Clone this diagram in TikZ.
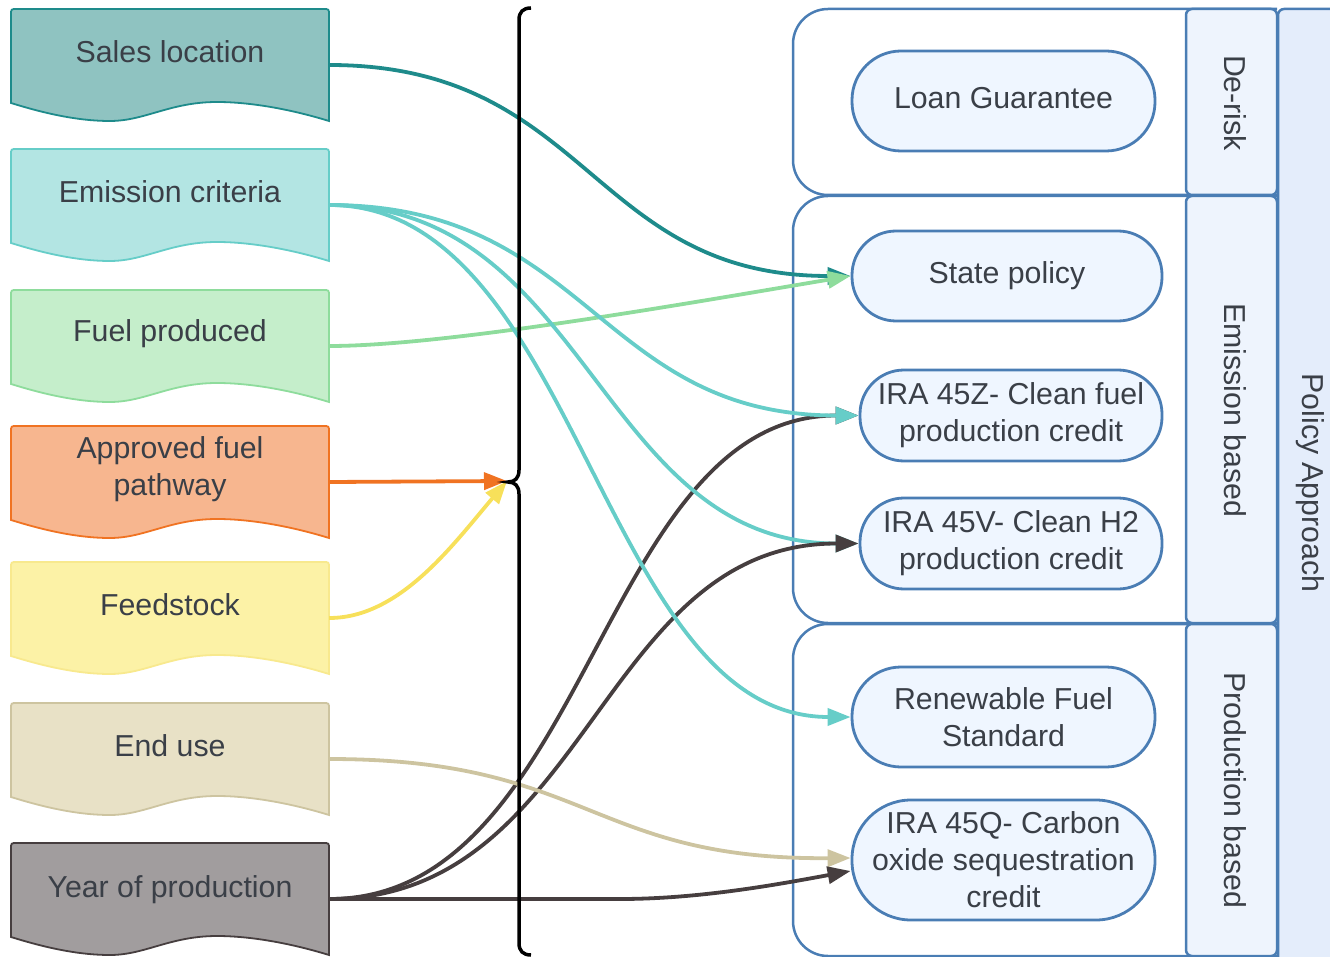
\documentclass[tikz,border=0pt]{standalone}
\usepackage{fontspec}
\setmainfont{Liberation Sans}
\usetikzlibrary{arrows.meta,calc}
\definecolor{txt}{HTML}{3A3F47}
\definecolor{laneblue}{HTML}{4A7DB4}
\definecolor{tabfill}{HTML}{EEF4FD}
\definecolor{colfill}{HTML}{E4EDFB}
\definecolor{pillfill}{HTML}{EFF6FF}
\definecolor{salesF}{HTML}{8FC3C1}\definecolor{salesD}{HTML}{1E8B8B}
\definecolor{emisF}{HTML}{B3E5E3}\definecolor{emisD}{HTML}{66CDC8}
\definecolor{fuelF}{HTML}{C5EECB}\definecolor{fuelD}{HTML}{8EDC9C}
\definecolor{apprF}{HTML}{F7B68F}\definecolor{apprD}{HTML}{F07322}
\definecolor{feedF}{HTML}{FCF2A6}\definecolor{feedD}{HTML}{F8E98E}\definecolor{feedL}{HTML}{F7E05A}
\definecolor{endF}{HTML}{E8E1C6}\definecolor{endD}{HTML}{CDC4A0}
\definecolor{yearF}{HTML}{A19D9E}\definecolor{yearD}{HTML}{463E3F}
\newcommand\docbox[7]{%
  \node[docanchor] (#1) at (170,#2+56) {};
  \draw[draw=#4, fill=#3, line width=1.8pt] (11,#2+94) -- (11,#2+6) .. controls (11,#2) .. (17,#2) -- (323,#2) .. controls (329,#2) .. (329,#2+6) -- (329,#2+112) .. controls (290,#2+100) and (250,#2+93) .. (217,#2+93) .. controls (170,#2+93) and (145,#2+112) .. (110,#2+112) .. controls (75,#2+112) and (40,#2+103) .. (11,#2+94) -- cycle;
  \node[doctext] (#6) at (170,#2+#7) {#5};
}
\begin{document}
\begin{tikzpicture}[x=1pt,y=-1pt,
  docanchor/.style={rectangle, minimum width=318pt, minimum height=112pt, inner sep=0pt},
  doctext/.style={text=txt, font=\fontsize{30.3}{37}\selectfont, align=center, inner sep=0pt},
  pill/.style={draw=laneblue, fill=pillfill, line width=2.8pt, text=txt, font=\fontsize{30.3}{37}\selectfont, align=center, inner sep=0pt},
  pilltext/.style={text=txt, font=\fontsize{30.3}{37}\selectfont, align=center, inner sep=0pt},
  lane/.style={draw=laneblue, line width=2.5pt},
  tab/.style={draw=laneblue, fill=tabfill, line width=2.5pt, rounded corners=6pt},
  vlabel/.style={text=txt, font=\fontsize{30.3}{37}\selectfont, rotate=-90, inner sep=0pt},
  conn/.style={line width=3.8pt, -{Triangle[length=23pt,width=17pt]}}
]
\useasboundingbox (0,0) rectangle (1330,957);
\clip (0,0) rectangle (1330,957);

% outer column
\draw[draw=laneblue, fill=colfill, line width=2.5pt, rounded corners=6pt] (1278,9) rectangle (1380,1000);
\node[vlabel] (policy) at (1310,483) {Policy Approach};

% lanes
\draw[lane, rounded corners=35pt] (1277,9) -- (793,9) -- (793,195) -- (1277,195);
\draw[lane, rounded corners=35pt] (1277,196) -- (793,196) -- (793,623) -- (1277,623);
\draw[lane, rounded corners=35pt] (1277,624) -- (793,624) -- (793,956) -- (1277,956);
\draw[tab] (1186,9) rectangle (1277,195);
\draw[tab] (1186,196) rectangle (1277,623);
\draw[tab] (1186,624) rectangle (1277,956);
\node[vlabel] (derisk) at (1235,103) {De-risk};
\node[vlabel] (emisbased) at (1235,410) {Emission based};
\node[vlabel] (prodbased) at (1235,790) {Production based};

% pills
\node[pill, minimum width=303pt, minimum height=100pt, rounded corners=49pt] (lg) at (1003.5,101) {};
\node[pilltext] (lgT) at (1003.5,98) {Loan Guarantee};
\node[pill, minimum width=310pt, minimum height=90pt, rounded corners=44pt] (sp) at (1007,276) {State policy};
\node[pill, minimum width=302pt, minimum height=91pt, rounded corners=44pt] (z) at (1011,415.5) {IRA 45Z- Clean fuel\\production credit};
\node[pill, minimum width=302pt, minimum height=91pt, rounded corners=44pt] (v) at (1011,543.5) {IRA 45V- Clean H2\\production credit};
\node[pill, minimum width=303pt, minimum height=100pt, rounded corners=49pt] (rfs) at (1003.5,717) {Renewable Fuel\\Standard};
\node[pill, minimum width=303pt, minimum height=120pt, rounded corners=59pt] (q) at (1003.5,860) {IRA 45Q- Carbon\\oxide sequestration\\credit};

% document boxes
\docbox{sales}{9}{salesF}{salesD}{Sales location}{salesT}{43}
\docbox{emis}{149}{emisF}{emisD}{Emission criteria}{emisT}{43}
\docbox{fuel}{290}{fuelF}{fuelD}{Fuel produced}{fuelT}{44}
\docbox{appr}{426}{apprF}{apprD}{Approved fuel\\pathway}{apprT}{43}
\docbox{feed}{562}{feedF}{feedD}{Feedstock}{feedT}{43}
\docbox{enduse}{703}{endF}{endD}{End use}{enduseT}{43}
\docbox{year}{843}{yearF}{yearD}{Year of production}{yearT}{47}

\coordinate (join) at (507,481);
\coordinate (ybend) at (620,899);

% connectors
\draw[conn, color=salesD] (sales.east) .. controls ($(sales.east)+(260,0)$) and ($(sp.west)+(-260,0)$) .. (sp.west);
\draw[conn, color=fuelD] (fuel.east) .. controls ($(fuel.east)+(120,0)$) and ($(sp.west)+(-150,25)$) .. (sp.west);
\draw[conn, color=yearD] (year.east) .. controls ($(year.east)+(260,0)$) and ($(z.west)+(-260,0)$) .. (z.west);
\draw[conn, color=emisD] (emis.east) .. controls ($(emis.east)+(260,0)$) and ($(z.west)+(-260,0)$) .. (z.west);
\draw[conn, color=emisD] (emis.east) .. controls ($(emis.east)+(260,0)$) and ($(v.west)+(-260,0)$) .. (v.west);
\draw[conn, color=yearD] (year.east) .. controls ($(year.east)+(260,0)$) and ($(v.west)+(-260,0)$) .. (v.west);
\draw[conn, color=emisD] (emis.east) .. controls ($(emis.east)+(250,0)$) and ($(rfs.west)+(-250,0)$) .. (rfs.west);
\draw[conn, color=endD] (enduse.east) .. controls ($(enduse.east)+(260,0)$) and ($(q.west)+(-260,0)$) .. ($(q.west)+(0,-2)$);
\draw[conn, color=yearD] (year.east) -- (ybend) .. controls (700,899) and (780,884) .. ($(q.west)+(0,11)$);
\draw[conn, color=apprD] (appr.east) -- (join);
\draw[conn, color=feedL] (feed.east) .. controls ($(feed.east)+(70,0)$) and ($(join)+(-55,65)$) .. (join);

% brace
\draw[black, line width=3.5pt] (531,8) .. controls (523,8) and (519,12) .. (519,20) -- (519,470) .. controls (519,478) and (515,482) .. (508,482) .. controls (515,482) and (519,486) .. (519,494) -- (519,943) .. controls (519,951) and (523,955) .. (531,955);
\end{tikzpicture}
\end{document}
